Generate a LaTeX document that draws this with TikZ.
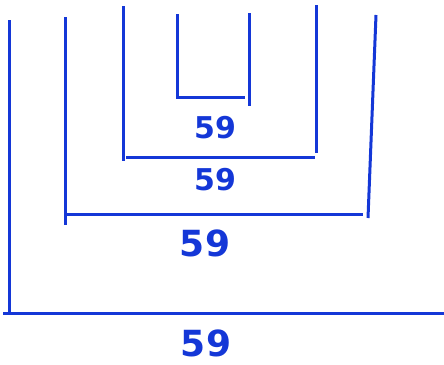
\documentclass[tikz,border=0pt]{standalone}
\usepackage{fontspec}
\setmainfont{DejaVu Sans}
\usepackage{tikz}
\definecolor{InkBlue}{RGB}{20,55,215}
\tikzset{
  ink/.style={draw=InkBlue, line width=3pt},
  sizelabel/.style={text=InkBlue, inner sep=0pt, font=\bfseries\fontsize{30}{30}\selectfont},
  biglabel/.style={text=InkBlue, inner sep=0pt, font=\bfseries\fontsize{36}{36}\selectfont}
}
\begin{document}
\begin{tikzpicture}[x=1pt,y=-1pt]
  \useasboundingbox (0,0) rectangle (444,364);

  % outermost frame
  \coordinate (AT) at (9,20);
  \coordinate (AB) at (9,315);
  \coordinate (AL) at (3,313);
  \coordinate (AR) at (444,313);
  \draw[ink] (AT) -- (AB);
  \draw[ink] (AL) -- (AR);
  \node[biglabel] (A) at (206,343) {59};

  % second frame
  \coordinate (BT) at (65,17);
  \coordinate (BB) at (65,225);
  \coordinate (BR) at (363,214);
  \coordinate (CT) at (376,15);
  \coordinate (CB) at (368,218);
  \draw[ink] (BT) -- (BB);
  \draw[ink] (BB |- BR) -- (BR);
  \draw[ink] (CT) -- (CB);
  \node[biglabel] (B) at (205,243) {59};

  % third frame
  \coordinate (DT) at (123,6);
  \coordinate (DB) at (123,161);
  \coordinate (DR) at (315,157);
  \coordinate (ET) at (316,5);
  \coordinate (EB) at (316,153);
  \draw[ink] (DT) -- (DB);
  \draw[ink] (126,157) -- (DR);
  \draw[ink] (ET) -- (EB);
  \node[sizelabel] (D) at (215,180) {59};

  % innermost frame
  \coordinate (FT) at (177,14);
  \coordinate (FB) at (177,97);
  \coordinate (FR) at (245,97);
  \coordinate (GT) at (249,13);
  \coordinate (GB) at (249,106);
  \draw[ink] (FT) -- (FB) -- (FR);
  \draw[ink] (GT) -- (GB);
  \node[sizelabel] (F) at (215,128) {59};
\end{tikzpicture}
\end{document}
